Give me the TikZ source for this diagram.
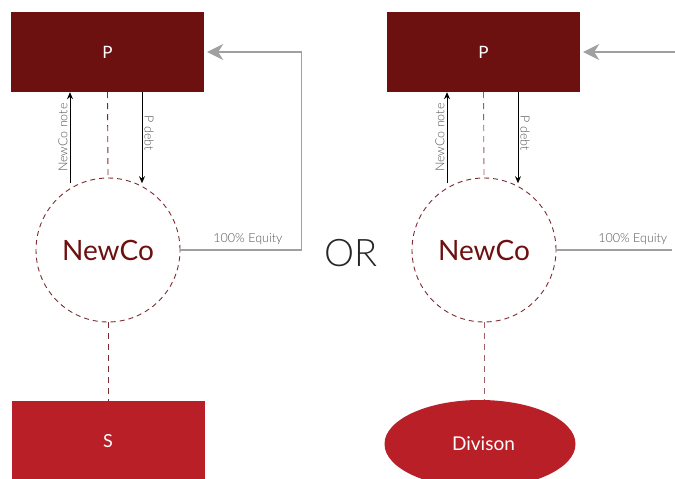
\documentclass[tikz,border=0pt]{standalone}
\usepackage{fontspec}
\setmainfont{Lato}
\newfontfamily\thinfont{Lato Light}
\usetikzlibrary{arrows.meta,shapes.geometric,calc}
\definecolor{pdark}{HTML}{6D1010}
\definecolor{sred}{HTML}{B81F26}
\definecolor{ringred}{HTML}{7C2A30}
\definecolor{eqgray}{HTML}{A0A0A0}
\definecolor{labgray}{HTML}{555555}

\tikzset{
  parent/.style={fill=pdark, text=white, minimum width=193pt, minimum height=80pt, inner sep=0pt, font=\fontsize{17}{17}\selectfont},
  newco/.style={circle, draw=ringred, dash pattern=on 5pt off 4pt, line width=0.9pt, minimum size=144pt, inner sep=0pt, text=pdark, font=\fontsize{28}{28}\selectfont},
  subbox/.style={fill=sred, text=white, minimum width=193pt, minimum height=80pt, inner sep=0pt, font=\fontsize{18}{18}\selectfont},
  divbox/.style={ellipse, fill=sred, text=white, minimum width=191pt, minimum height=88pt, inner sep=0pt, font=\fontsize{19}{19}\selectfont},
  owns/.style={draw=ringred, dash pattern=on 6pt off 5pt, line width=0.9pt},
  flow/.style={draw=black, line width=0.9pt, -{Stealth[length=7pt,width=6pt]}},
  flowlab/.style={text=labgray, font=\thinfont\fontsize{12.5}{12.5}\selectfont, inner sep=2pt},
  equity/.style={draw=eqgray, line width=1.8pt, -{Stealth[length=16pt,width=16pt,inset=5pt]}, shorten >=3pt},
  eqlab/.style={text=labgray, font=\thinfont\fontsize{12.5}{12.5}\selectfont, inner sep=4pt}
}

\begin{document}
\begin{tikzpicture}[x=1pt,y=-1pt]
  \useasboundingbox (0,0) rectangle (675,479);

  %%%%% left: NewCo over S %%%%%
  \node[parent] (P1) at (107.5,52) {P};
  \node[newco] (N1) at (108,250) {NewCo};
  \node[subbox] (S) at (108,441) {S};

  \draw[owns] (P1.south) -- (N1.north);
  \draw[owns] (N1.south) -- (S.north);

  \draw[flow] ([xshift=-37.5pt,yshift=-91pt]P1.south) -- ([xshift=-37.5pt]P1.south)
    node[midway, rotate=90, above, flowlab] {NewCo note};
  \draw[flow] ([xshift=34.5pt]P1.south) -- ([xshift=34.5pt,yshift=-91pt]P1.south)
    node[pos=0.45, rotate=-90, above, flowlab] {P debt};

  \draw[equity] (N1.east) -- ++(121,0) coordinate (E1)
    node[midway, above, eqlab, xshift=7pt] {100\% Equity} |- (P1.east);

  %%%%% middle %%%%%
  \node[font=\thinfont\fontsize{38}{38}\selectfont, text=black!85] (OR) at (351,253) {OR};

  %%%%% right: NewCo over Divison %%%%%
  \node[parent] (P2) at (483.5,52) {P};
  \node[newco] (N2) at (484,250) {NewCo};
  \node[divbox] (D) at (480,444) {\hspace*{7pt}Divison};

  \draw[owns, draw=ringred!75] (P2.south) -- (N2.north);
  \draw[owns, draw=ringred!75] (N2.south) -- (D.north -| N2.south);

  \draw[flow] ([xshift=-36.5pt,yshift=-91pt]P2.south) -- ([xshift=-36.5pt]P2.south)
    node[midway, rotate=90, above, flowlab] {NewCo note};
  \draw[flow] ([xshift=34.5pt]P2.south) -- ([xshift=34.5pt,yshift=-91pt]P2.south)
    node[pos=0.45, rotate=-90, above, flowlab] {P debt};

  \coordinate (R1) at (675,250);
  \coordinate (R2) at (675,52);
  \draw[equity, -] (N2.east) -- (R1)
    node[midway, above, eqlab, xshift=17pt] {100\% Equity};
  \draw[equity] (R2) -- (P2.east);
\end{tikzpicture}
\end{document}
